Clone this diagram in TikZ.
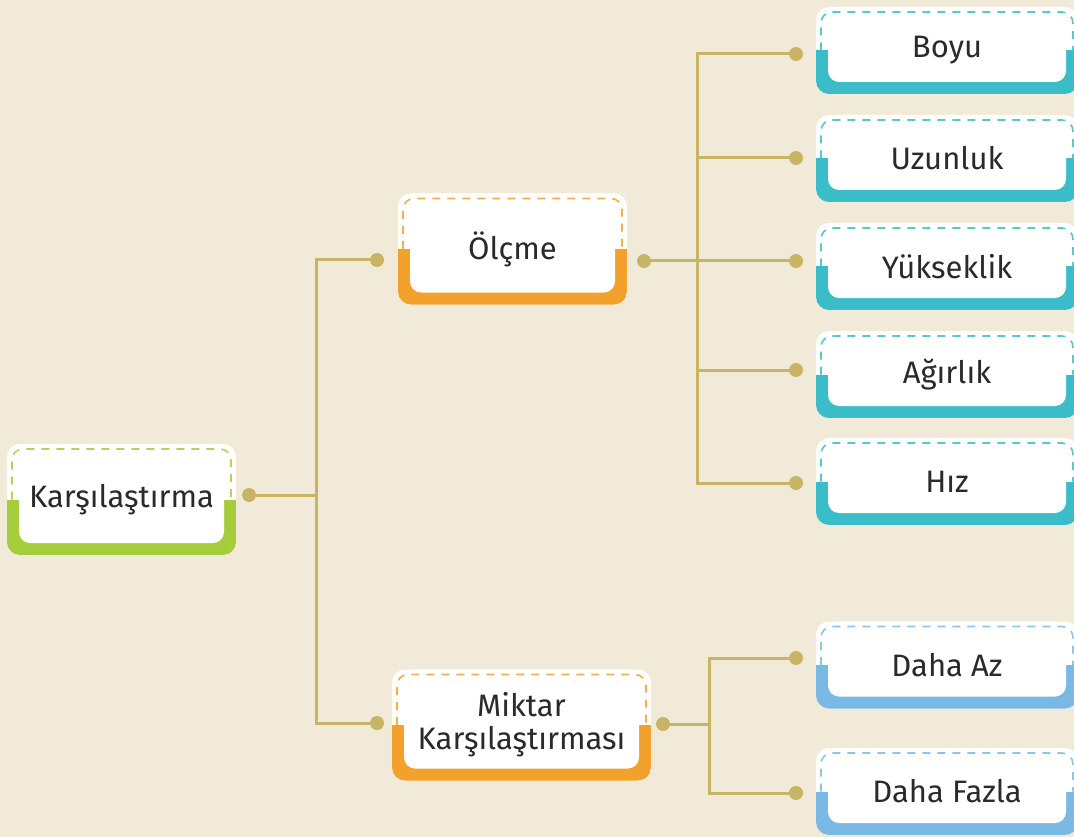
\documentclass[tikz,border=0pt]{standalone}
\usepackage{fontspec}
\setmainfont{Fira Sans}
\usepackage{tikz}
\usetikzlibrary{positioning}

\definecolor{paper}{HTML}{F2EAD9}
\definecolor{stem}{HTML}{C8B465}
\definecolor{lime}{HTML}{A5CC3B}
\definecolor{amber}{HTML}{F2A12D}
\definecolor{sea}{HTML}{3ABDC8}
\definecolor{sky}{HTML}{7BB9E5}
\definecolor{ink}{HTML}{2A2A2A}

\newcommand{\boxfont}{\fontsize{31}{33}\selectfont}

\tikzset{
    mapbox/.style={rectangle, rounded corners=13pt, fill=white, inner sep=0pt,
        font=\boxfont, text=ink, align=center,
        path picture={
            \fill[#1, sharp corners] (path picture bounding box.west) rectangle (path picture bounding box.south east);
            \fill[white, rounded corners=11pt] ([xshift=12pt]path picture bounding box.north west)
                rectangle ([shift={(-12pt,12pt)}]path picture bounding box.south east);
            \draw[#1!85, line width=1.6pt, dash pattern=on 8pt off 7pt, rounded corners=11pt]
                ([xshift=5pt]path picture bounding box.west)
                -- ([shift={(5pt,-5pt)}]path picture bounding box.north west)
                -- ([shift={(-5pt,-5pt)}]path picture bounding box.north east)
                -- ([xshift=-5pt]path picture bounding box.east);
        }},
    bigbox/.style={mapbox=#1, minimum width=229pt, minimum height=111pt},
    leaf/.style={mapbox=#1, minimum width=262pt, minimum height=87pt},
    dot/.style={circle, fill=stem, minimum size=14pt, inner sep=0pt},
    stemline/.style={draw=stem, line width=3pt},
}

\begin{document}
\begin{tikzpicture}[x=1pt, y=-1pt]
    \fill[paper] (0,0) rectangle (1074,837);
    \useasboundingbox (0,0) rectangle (1074,837);

    % boxes
    \node[bigbox=lime] (kars) at (121.5,499.5) {Karşılaştırma};
    \node[bigbox=amber] (olcme) at (512.5,249) {Ölçme};
    \node[bigbox=amber, minimum width=259pt] (miktar) at (521.5,725) {Miktar\\Karşılaştırması};

    \node[leaf=sea] (boyu) at (947,50.5) {Boyu};
    \node[leaf=sea] (uzun) at (947,158.5) {Uzunluk};
    \node[leaf=sea] (yuk) at (947,266.5) {Yükseklik};
    \node[leaf=sea] (agir) at (947,374.5) {Ağırlık};
    \node[leaf=sea] (hiz) at (947,481.5) {Hız};
    \node[leaf=sky] (daz) at (947,665) {Daha Az};
    \node[leaf=sky] (dfaz) at (947,791.5) {Daha Fazla};

    % dots
    \node[dot] (kars-r) at (249,495) {};
    \node[dot] (olcme-l) at (377,260) {};
    \node[dot] (olcme-r) at (644,261) {};
    \node[dot] (miktar-l) at (377,723) {};
    \node[dot] (miktar-r) at (663,724) {};
    \node[dot] (boyu-l) at (796,54) {};
    \node[dot] (uzun-l) at (796,158) {};
    \node[dot] (yuk-l) at (796,261) {};
    \node[dot] (agir-l) at (796,370) {};
    \node[dot] (hiz-l) at (796,483) {};
    \node[dot] (daz-l) at (796,658) {};
    \node[dot] (dfaz-l) at (796,793) {};

    \coordinate (hub1) at (316,495);
    \coordinate (hub2) at (697,261);
    \coordinate (hub3) at (709,724);

    % connectors
    \path[stemline] (kars-r) -- (hub1);
    \path[stemline] (olcme-l) -| (hub1) |- (miktar-l);

    \path[stemline] (olcme-r) -- (yuk-l);
    \path[stemline] (boyu-l) -| (hub2) |- (hiz-l);
    \path[stemline] (hub2 |- uzun-l) -- (uzun-l);
    \path[stemline] (hub2 |- agir-l) -- (agir-l);

    \path[stemline] (miktar-r) -- (hub3);
    \path[stemline] (daz-l) -| (hub3) |- (dfaz-l);
\end{tikzpicture}
\end{document}
